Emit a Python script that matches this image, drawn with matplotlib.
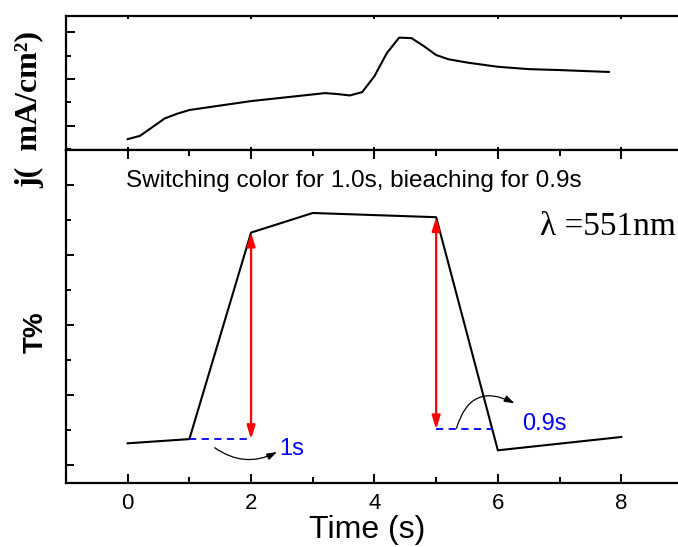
import matplotlib.pyplot as plt
from matplotlib.ticker import MultipleLocator

plt.rcParams['font.family'] = 'Liberation Sans'
plt.rcParams['axes.linewidth'] = 1.6

# densidad de corriente durante el ciclo
t_j = [0.0, 0.2, 0.6, 0.8, 1.0, 2.0, 3.2, 3.4, 3.6, 3.8, 4.0, 4.2, 4.4, 4.6,
       4.8, 5.0, 5.2, 5.5, 6.0, 6.5, 7.0, 7.8]
j = [0.72, 0.79, 1.16, 1.26, 1.34, 1.53, 1.70, 1.68, 1.65, 1.72, 2.06, 2.55,
     2.88, 2.87, 2.70, 2.51, 2.42, 2.35, 2.26, 2.21, 2.19, 2.15]

# transmitancia a 551 nm
t_T = [0, 1, 2, 3, 5, 6, 8]
T = [13.1, 13.7, 43.2, 46.0, 45.4, 12.1, 14.0]

# tiempos de coloreado / blanqueado
t_col = (1.0, 2.0)
t_bl = (5.0, 5.92)
T_bl = 15.1

fig = plt.figure(figsize=(6.78, 5.47), dpi=100)
ax1 = fig.add_axes([0.0973, 0.7249, 0.91, 0.2458])
ax2 = fig.add_axes([0.0973, 0.117, 0.91, 0.6079], sharex=ax1)

# panel superior: corriente
ax1.plot(t_j, j, color='black', lw=1.5)
ax1.set_ylim(0.479, 3.34)
ax1.yaxis.set_major_locator(MultipleLocator(1))
ax1.yaxis.set_minor_locator(MultipleLocator(0.5))
ax1.tick_params(axis='y', which='major', direction='in', length=6.5, width=1.4, labelleft=False)
ax1.tick_params(axis='y', which='minor', direction='in', length=3.5, width=1.4)
ax1.tick_params(axis='x', which='major', direction='in', length=2, width=1.4,
                top=True, bottom=True, labelbottom=False)
ax1.tick_params(axis='x', which='minor', length=0)

# panel inferior: transmitancia
ax2.plot(t_T, T, color='black', lw=1.5)
ax2.set_xlim(-1, 9)
ax2.set_ylim(7.43, 54.93)
ax2.xaxis.set_major_locator(MultipleLocator(2))
ax2.xaxis.set_minor_locator(MultipleLocator(1))
ax2.yaxis.set_major_locator(MultipleLocator(10))
ax2.yaxis.set_minor_locator(MultipleLocator(5))
ax2.tick_params(axis='x', which='major', direction='in', length=6.5, width=1.4,
                top=True, labelsize=16, pad=7)
ax2.tick_params(axis='x', which='minor', direction='in', length=4, width=1.4, top=True)
ax2.tick_params(axis='y', which='major', direction='in', length=6, width=1.4, labelleft=False)
ax2.tick_params(axis='y', which='minor', direction='in', length=3.5, width=1.4)

# flechas rojas: cambio de transmitancia
ax2.annotate('', xy=(t_col[1], T[2]), xytext=(t_col[1], T[1]),
             arrowprops=dict(arrowstyle='<|-|>,head_length=0.8,head_width=0.25',
                             color='red', lw=1.6, shrinkA=0, shrinkB=0))
ax2.annotate('', xy=(t_bl[0], T[4]), xytext=(t_bl[0], T_bl),
             arrowprops=dict(arrowstyle='<|-|>,head_length=0.8,head_width=0.25',
                             color='red', lw=1.6, shrinkA=0, shrinkB=0))

# tiempos de respuesta
ax2.plot(t_col, [T[1], T[1]], color='blue', lw=1.3, ls=(0, (4, 3)))
ax2.plot(t_bl, [T_bl, T_bl], color='blue', lw=1.3, ls=(0, (4, 3)))
ax2.annotate('', xy=(2.42, 11.86), xytext=(1.41, 12.47),
             arrowprops=dict(arrowstyle='-|>,head_length=0.6,head_width=0.2',
                             color='black', lw=0.9, shrinkA=0, shrinkB=0,
                             connectionstyle='arc3,rad=0.3'))
ax2.annotate('', xy=(6.27, 18.81), xytext=(5.33, 15.24),
             arrowprops=dict(arrowstyle='-|>,head_length=0.6,head_width=0.2',
                             color='black', lw=0.9, shrinkA=0, shrinkB=0,
                             connectionstyle='arc3,rad=-0.6'))
ax2.text(2.46, 11.43, '1s', color='blue', fontsize=17, va='baseline')
ax2.text(6.40, 15.0, '0.9s', color='blue', fontsize=17, va='baseline')

ax2.text(-0.02, 49.76, 'Switching color for 1.0s, bieaching for 0.9s',
         fontsize=17.5, va='baseline')
ax2.text(6.69, 42.86, '\u03bb =551nm', fontsize=24, family='Liberation Serif', va='baseline')

ax2.set_xlabel('Time (s)', fontsize=23)
ax2.xaxis.set_label_coords(0.489, -0.095)

fig.text(0.044, 0.80, 'j(  mA/cm\u00b2)', rotation=90, ha='center', va='center',
         fontsize=23, fontweight='bold', family='Liberation Serif')
fig.text(0.053, 0.393, 'T%', rotation=90, ha='center', va='center',
         fontsize=20, fontweight='bold')

fig.savefig('out.png', dpi=100)
